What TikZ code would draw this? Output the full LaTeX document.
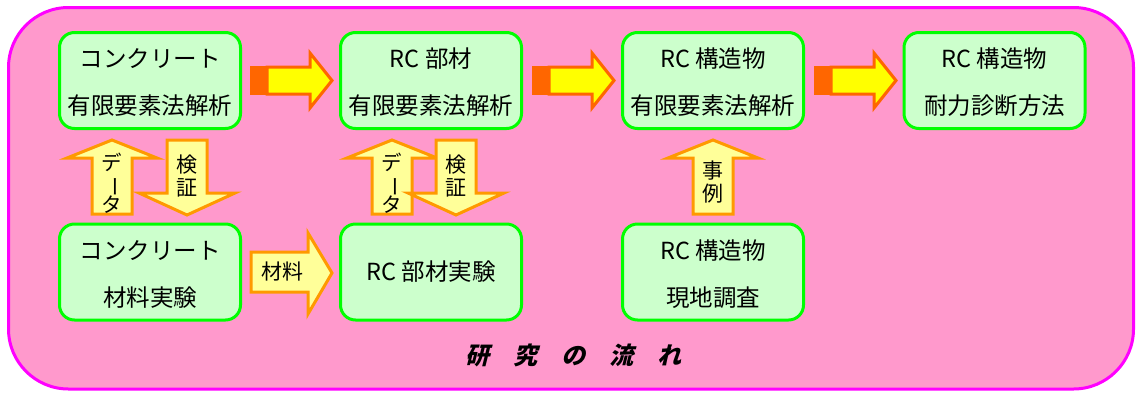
\documentclass[tikz,border=0pt]{standalone}
\usepackage{fontspec}
\setmainfont{Noto Sans CJK JP}
\newfontfamily\jptitle[FakeSlant=0.25]{Noto Sans CJK JP}
\usepackage{graphicx}
\definecolor{bgpink}{HTML}{FF99CC}
\definecolor{bordmag}{HTML}{FF00FF}
\definecolor{boxgreen}{HTML}{00FF00}
\definecolor{boxfill}{HTML}{CCFFCC}
\definecolor{arrred}{HTML}{FF6600}
\definecolor{arryel}{HTML}{FFFF00}
\definecolor{varrfill}{HTML}{FFFF99}
\definecolor{varrbord}{HTML}{FF9900}
\begin{document}
\begin{tikzpicture}[x=1pt,y=-1pt,
  stagebox/.style={draw=boxgreen,fill=boxfill,line width=3pt,rounded corners=15pt,minimum width=181pt,inner sep=0pt},
  toprow/.style={stagebox,minimum height=96pt},
  lbl/.style={font=\fontsize{23.5}{26}\selectfont,inner sep=0pt,text=black},
  vlbl/.style={font=\fontsize{20.5}{23}\selectfont,inner sep=0pt,align=center,text=black},
  harrow/.style={fill=arryel,draw=arrred,line width=3pt,line join=miter},
  varrow/.style={fill=varrfill,draw=varrbord,line width=3pt,line join=miter}]
\useasboundingbox (0,0) rectangle (1137,394);
% outer frame
\draw[fill=bgpink,draw=bordmag,line width=3pt,rounded corners=60pt] (8.5,7.5) rectangle (1133.5,389);
% boxes
\node[toprow] (b1) at (150,80.5) {};
\node[toprow] (b2) at (431,80.5) {};
\node[toprow] (b3) at (713,80.5) {};
\node[toprow] (b4) at (994.5,80.5) {};
\node[toprow] (b5) at (150,272) {};
\node[toprow] (b6) at (431,272) {};
\node[toprow] (b7) at (713,272) {};
% box texts
\node[lbl] (t1a) at (150,59) {コンクリート};
\node[lbl] (t1b) at (150,106) {有限要素法解析};
\node[lbl] (t2a) at (431,59) {RC 部材};
\node[lbl] (t2b) at (431,106) {有限要素法解析};
\node[lbl] (t3a) at (713,59) {RC 構造物};
\node[lbl] (t3b) at (713,106) {有限要素法解析};
\node[lbl] (t4a) at (994.5,59) {RC 構造物};
\node[lbl] (t4b) at (994.5,106) {耐力診断方法};
\node[lbl] (t5a) at (150,251) {コンクリート};
\node[lbl] (t5b) at (150,298) {材料実験};
\node[lbl] (t6a) at (431,272) {RC 部材実験};
\node[lbl] (t7a) at (713,251) {RC 構造物};
\node[lbl] (t7b) at (713,298) {現地調査};
% horizontal block arrows
\foreach \dx in {0,282,564}{
  \fill[arrred] (250+\dx,65.5) rectangle (267+\dx,94.5);
  \draw[harrow] (267+\dx,67) -- (310+\dx,67) -- (310+\dx,53) -- (332+\dx,80.5) -- (310+\dx,108) -- (310+\dx,94) -- (267+\dx,94) -- cycle;
}
% vertical arrows (up)
\foreach \cx in {112,392,713}{
  \draw[varrow] (\cx-20,214) -- (\cx-20,158) -- (\cx-45,158) -- (\cx,140) -- (\cx+45,158) -- (\cx+20,158) -- (\cx+20,214) -- cycle;
}
% vertical arrows (down)
\foreach \cx in {187,456}{
  \draw[varrow] (\cx-20,140) -- (\cx-20,193) -- (\cx-48,193) -- (\cx,215) -- (\cx+48,193) -- (\cx+20,193) -- (\cx+20,140) -- cycle;
}
% material arrow
\draw[varrow] (251,252) -- (308,252) -- (308,233) -- (332,273) -- (308,314) -- (308,292) -- (251,292) -- cycle;
% arrow labels
\node[vlbl] (d1) at (112,183) {デ\\[-2pt]\rotatebox[origin=c]{-90}{ー}\\[-2pt]タ};
\node[vlbl] (d2) at (392,183) {デ\\[-2pt]\rotatebox[origin=c]{-90}{ー}\\[-2pt]タ};
\node[vlbl,font=\fontsize{21}{23}\selectfont] (k1) at (187,176) {検\\証};
\node[vlbl,font=\fontsize{21}{23}\selectfont] (k2) at (456,176) {検\\証};
\node[vlbl,font=\fontsize{21}{23}\selectfont] (j1) at (713,182) {事\\例};
\node[vlbl,font=\fontsize{21}{23}\selectfont] (m1) at (282,272) {材料};
% title
\node[inner sep=0pt,font=\jptitle\bfseries\fontsize{24}{26}\selectfont] (title) at (573,355) {研　究　の　流　れ};
\end{tikzpicture}
\end{document}
